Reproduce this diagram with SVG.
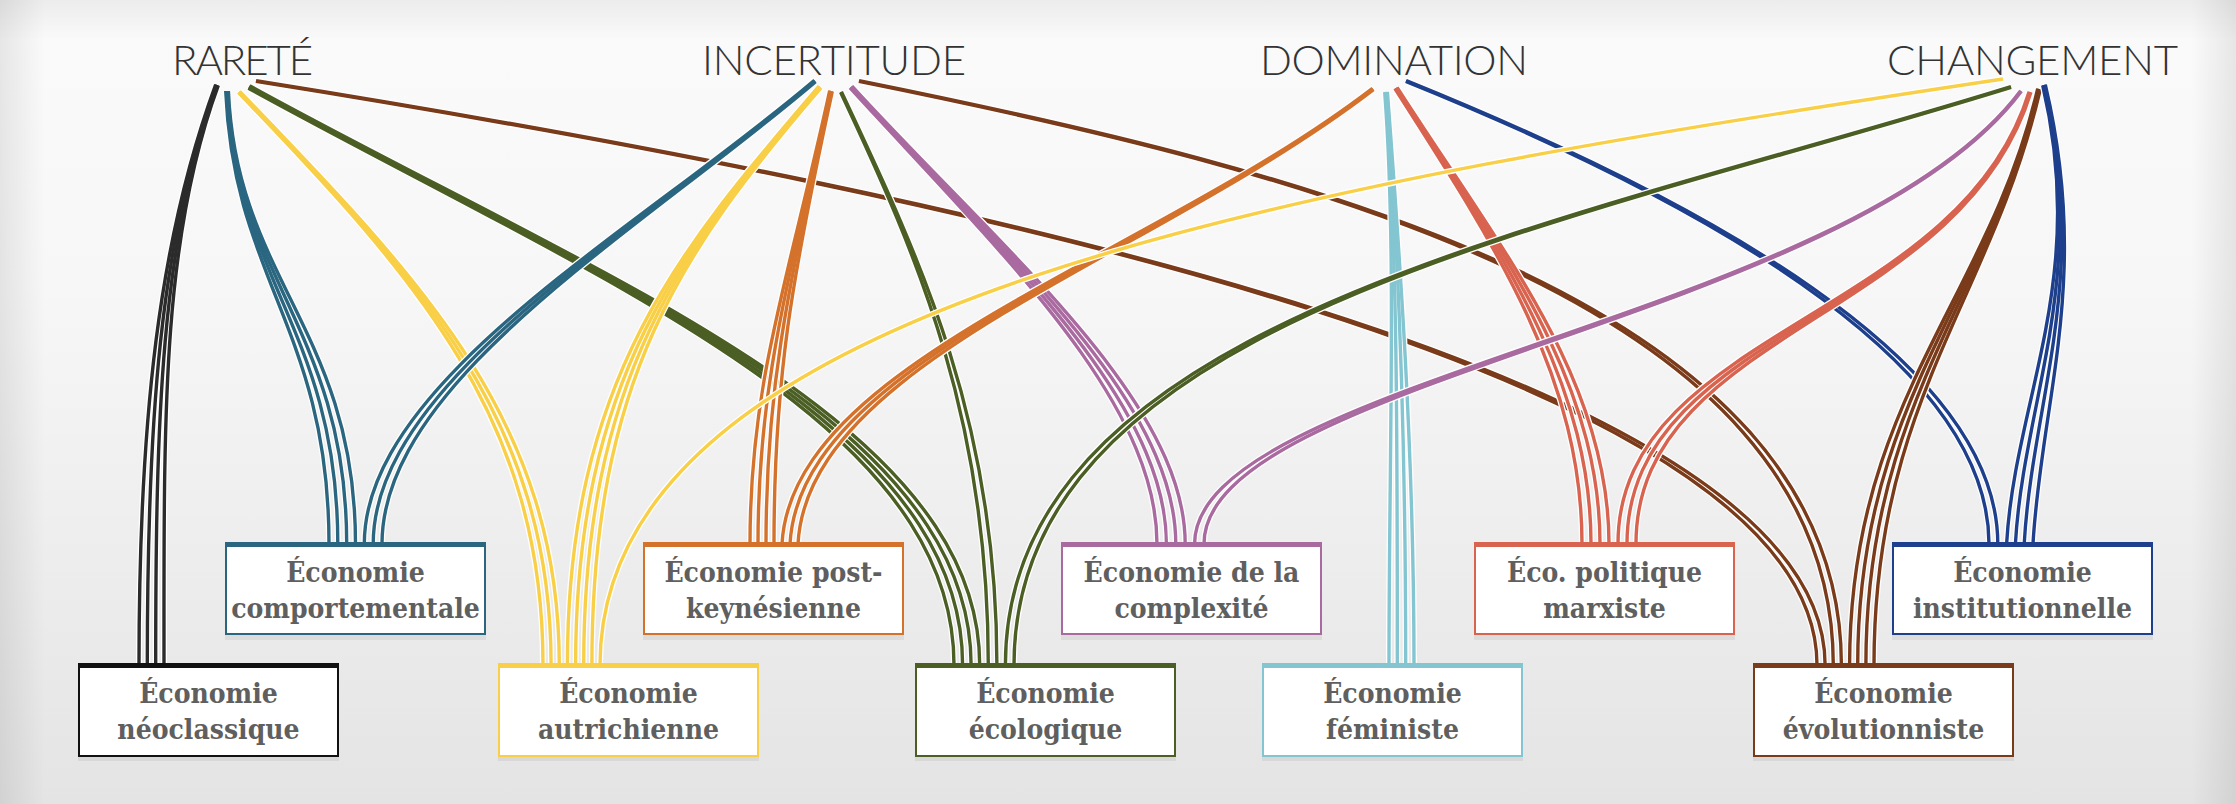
<svg xmlns="http://www.w3.org/2000/svg" width="2236" height="804" viewBox="0 0 2236 804">
<style>
.lbl{font-family:Lato,"Open Sans","Liberation Sans",sans-serif;font-weight:300;font-size:42px;fill:#333;text-anchor:middle}
.bt{font-family:"DejaVu Serif","Liberation Serif",serif;font-weight:bold;font-size:28px;font-stretch:condensed;fill:#5f5f5f;text-anchor:middle}
.bx{fill:#fff;stroke-width:2}
.sh{fill:#000;opacity:.06}
.case{stroke:#fff;stroke-width:6}
.col{stroke-width:3.4}
</style>
<defs>
<linearGradient id="bg" x1="0" y1="0" x2="0" y2="1">
<stop offset="0" stop-color="#ececec"/><stop offset=".05" stop-color="#fafafa"/><stop offset=".35" stop-color="#f7f7f7"/><stop offset="1" stop-color="#e4e4e4"/>
</linearGradient>
<linearGradient id="vg" x1="0" y1="0" x2="1" y2="0">
<stop offset="0" stop-color="#000" stop-opacity=".08"/><stop offset=".02" stop-color="#000" stop-opacity="0"/><stop offset=".98" stop-color="#000" stop-opacity="0"/><stop offset="1" stop-color="#000" stop-opacity=".08"/>
</linearGradient>
<g id="b1" fill="none">
<path d="M215.7,84.5C158.7,239.5 139,420 139,665"/><path d="M216.6,84.8C159.6,239.8 147.3,420 147.3,665"/><path d="M217.4,85.2C160.4,240.2 155.7,420 155.7,665"/><path d="M218.3,85.5C161.3,240.5 164,420 164,665"/></g>
<g id="b2" fill="none">
<path d="M225.7,91C233.7,280 329,330 329,544"/><path d="M226.6,91C234.6,280 337.8,330 337.8,544"/><path d="M227.5,91C235.5,280 346.7,330 346.7,544"/><path d="M228.4,91C236.4,280 355.5,330 355.5,544"/></g>
<g id="b3" fill="none">
<path d="M238.4,92.6C419.4,280.6 543,420 543,665"/><path d="M239,92C420,280 551.1,420 551.1,665"/><path d="M239.7,91.4C420.7,279.4 559.3,420 559.3,665"/></g>
<g id="b4" fill="none">
<path d="M248.4,88.2C599.4,281.2 954,420 954,665"/><path d="M248.8,87.4C599.8,280.4 962.6,420 962.6,665"/><path d="M249.2,86.6C600.2,279.6 971.1,420 971.1,665"/><path d="M249.7,85.8C600.7,278.8 979.7,420 979.7,665"/></g>
<g id="b5" fill="none">
<path d="M255.9,81.4C999.9,200.4 1817,380 1817,665"/><path d="M256.1,80.6C1000.1,199.6 1825.1,380 1825.1,665"/></g>
<g id="b6" fill="none">
<path d="M814.4,80.3C639.4,229.3 364.3,380 364.3,544"/><path d="M815,81C640,230 373.2,380 373.2,544"/><path d="M815.6,81.7C640.6,230.7 382,380 382,544"/></g>
<g id="b7" fill="none">
<path d="M819,86.1C679,249.1 567.4,380 567.4,665"/><path d="M819.7,86.7C679.7,249.7 575.6,380 575.6,665"/><path d="M820.3,87.3C680.3,250.3 583.7,380 583.7,665"/><path d="M821,87.9C681,250.9 591.9,380 591.9,665"/></g>
<g id="b8" fill="none">
<path d="M829.7,90.7C788.7,279.7 750,380 750,544"/><path d="M830.6,90.9C789.6,279.9 758,380 758,544"/><path d="M831.4,91.1C790.4,280.1 766,380 766,544"/><path d="M832.3,91.3C791.3,280.3 774,380 774,544"/></g>
<g id="b9" fill="none">
<path d="M840.6,92.2C919.6,260.2 988.3,420 988.3,665"/><path d="M841.4,91.8C920.4,259.8 996.9,420 996.9,665"/></g>
<g id="b10" fill="none">
<path d="M850,87.9C999,250.9 1157,400 1157,544"/><path d="M850.7,87.3C999.7,250.3 1166.4,400 1166.4,544"/><path d="M851.3,86.7C1000.3,249.7 1175.8,400 1175.8,544"/><path d="M852,86.1C1001,249.1 1185.2,400 1185.2,544"/></g>
<g id="b11" fill="none">
<path d="M858.9,81.4C1299.9,170.4 1833.3,300 1833.3,665"/><path d="M859.1,80.6C1300.1,169.6 1841.4,300 1841.4,665"/></g>
<g id="b12" fill="none">
<path d="M1372.5,88.3C1149.5,259.3 792,360 782,544"/><path d="M1373,89C1150,260 800,360 790,544"/><path d="M1373.5,89.7C1150.5,260.7 808,360 798,544"/></g>
<g id="b13" fill="none">
<path d="M1384.7,92C1396.7,250 1389,450 1389,665"/><path d="M1385.6,92C1397.6,250 1397.3,450 1397.3,665"/><path d="M1386.5,92C1398.5,250 1405.7,450 1405.7,665"/><path d="M1387.4,92C1399.4,250 1414,450 1414,665"/></g>
<g id="b14" fill="none">
<path d="M1394.9,88.7C1498.9,250.7 1582,380 1582,544"/><path d="M1395.6,88.2C1499.6,250.2 1591,380 1591,544"/><path d="M1396.4,87.8C1500.4,249.8 1600,380 1600,544"/><path d="M1397.1,87.3C1501.1,249.3 1609,380 1609,544"/></g>
<g id="b15" fill="none">
<path d="M1405.8,81.4C1699.8,200.4 1989,360 1989,544"/><path d="M1406.2,80.6C1700.2,199.6 1997.8,360 1997.8,544"/></g>
<g id="b16" fill="none">
<path d="M2003,79C1300,185 600,300 600,665"/></g>
<g id="b17" fill="none">
<path d="M2010.9,86.6C1549.9,229.6 1005.4,320 1005.4,665"/><path d="M2011.1,87.4C1550.1,230.4 1014,320 1014,665"/></g>
<g id="b18" fill="none">
<path d="M2020.6,90.7C1849.6,319.7 1194.6,380 1194.6,544"/><path d="M2021.4,91.3C1850.4,320.3 1204,380 1204,544"/></g>
<g id="b19" fill="none">
<path d="M2029.1,91.7C1959.1,319.7 1618,330 1618,544"/><path d="M2030,92C1960,320 1627,330 1627,544"/><path d="M2030.9,92.3C1960.9,320.3 1636,330 1636,544"/></g>
<g id="b20" fill="none">
<path d="M2037.7,88.7C1988.7,299.7 1849.6,400 1849.6,665"/><path d="M2038.6,88.9C1989.6,299.9 1857.7,400 1857.7,665"/><path d="M2039.4,89.1C1990.4,300.1 1865.9,400 1865.9,665"/><path d="M2040.3,89.3C1991.3,300.3 1874,400 1874,665"/></g>
<g id="b21" fill="none">
<path d="M2042.7,85.3C2088.7,280.3 2014.6,400 2006.6,544"/><path d="M2043.6,85.1C2089.6,280.1 2023.4,400 2015.4,544"/><path d="M2044.4,84.9C2090.4,279.9 2032.2,400 2024.2,544"/><path d="M2045.3,84.7C2091.3,279.7 2041,400 2033,544"/></g>
</defs>
<rect width="2236" height="804" fill="url(#bg)"/>
<rect width="2236" height="804" fill="url(#vg)"/>

<g id="labels">
<text id="rarete" class="lbl" x="242.5" y="75" textLength="141" lengthAdjust="spacing">RARETÉ</text>
<text id="incertitude" class="lbl" x="834" y="75" textLength="264" lengthAdjust="spacing">INCERTITUDE</text>
<text id="domination" class="lbl" x="1394" y="75" textLength="268" lengthAdjust="spacing">DOMINATION</text>
<text id="changement" class="lbl" x="2032.5" y="75" textLength="291" lengthAdjust="spacing">CHANGEMENT</text>
</g>

<g id="connectors">
<use href="#b1" class="case"/><use href="#b1" class="col" stroke="#2b2b2b"/>
<use href="#b2" class="case"/><use href="#b2" class="col" stroke="#2a6680"/>
<use href="#b3" class="case"/><use href="#b3" class="col" stroke="#f8cf46"/>
<use href="#b4" class="case"/><use href="#b4" class="col" stroke="#4b5e24"/>
<use href="#b5" class="case"/><use href="#b5" class="col" stroke="#7a3b1a"/>
<use href="#b6" class="case"/><use href="#b6" class="col" stroke="#2a6680"/>
<use href="#b7" class="case"/><use href="#b7" class="col" stroke="#f8cf46"/>
<use href="#b8" class="case"/><use href="#b8" class="col" stroke="#d4722c"/>
<use href="#b9" class="case"/><use href="#b9" class="col" stroke="#4b5e24"/>
<use href="#b10" class="case"/><use href="#b10" class="col" stroke="#a96aa0"/>
<use href="#b11" class="case"/><use href="#b11" class="col" stroke="#7a3b1a"/>
<use href="#b12" class="case"/><use href="#b12" class="col" stroke="#d4722c"/>
<use href="#b13" class="case"/><use href="#b13" class="col" stroke="#83c5d1"/>
<use href="#b14" class="case"/><use href="#b14" class="col" stroke="#d8634f"/>
<use href="#b15" class="case"/><use href="#b15" class="col" stroke="#1d3f8c"/>
<use href="#b16" class="case"/><use href="#b16" class="col" stroke="#f8cf46"/>
<use href="#b17" class="case"/><use href="#b17" class="col" stroke="#4b5e24"/>
<use href="#b18" class="case"/><use href="#b18" class="col" stroke="#a96aa0"/>
<use href="#b19" class="case"/><use href="#b19" class="col" stroke="#d8634f"/>
<use href="#b20" class="case"/><use href="#b20" class="col" stroke="#7a3b1a"/>
<use href="#b21" class="case"/><use href="#b21" class="col" stroke="#1d3f8c"/>
</g>

<g id="n-comportementale">
<rect class="sh" x="225" y="546" width="261" height="94"/>
<rect class="bx" x="226" y="543" width="259" height="91" stroke="#2a6680"/>
<rect x="225" y="542" width="261" height="5" fill="#2a6680"/>
<text class="bt" x="355.5" y="582">Économie</text><text class="bt" x="355.5" y="618">comportementale</text>
</g>
<g id="n-postkeynesienne">
<rect class="sh" x="643" y="546" width="261" height="94"/>
<rect class="bx" x="644" y="543" width="259" height="91" stroke="#d4722c"/>
<rect x="643" y="542" width="261" height="5" fill="#d4722c"/>
<text class="bt" x="773.5" y="582">Économie post-</text><text class="bt" x="773.5" y="618">keynésienne</text>
</g>
<g id="n-complexite">
<rect class="sh" x="1061" y="546" width="261" height="94"/>
<rect class="bx" x="1062" y="543" width="259" height="91" stroke="#a96aa0"/>
<rect x="1061" y="542" width="261" height="5" fill="#a96aa0"/>
<text class="bt" x="1191.5" y="582">Économie de la</text><text class="bt" x="1191.5" y="618">complexité</text>
</g>
<g id="n-marxiste">
<rect class="sh" x="1474" y="546" width="261" height="94"/>
<rect class="bx" x="1475" y="543" width="259" height="91" stroke="#d8634f"/>
<rect x="1474" y="542" width="261" height="5" fill="#d8634f"/>
<text class="bt" x="1604.5" y="582">Éco. politique</text><text class="bt" x="1604.5" y="618">marxiste</text>
</g>
<g id="n-institutionnelle">
<rect class="sh" x="1892" y="546" width="261" height="94"/>
<rect class="bx" x="1893" y="543" width="259" height="91" stroke="#1d3f8c"/>
<rect x="1892" y="542" width="261" height="5" fill="#1d3f8c"/>
<text class="bt" x="2022.5" y="582">Économie</text><text class="bt" x="2022.5" y="618">institutionnelle</text>
</g>
<g id="n-neoclassique">
<rect class="sh" x="78" y="667" width="261" height="94"/>
<rect class="bx" x="79" y="664" width="259" height="92" stroke="#111"/>
<rect x="78" y="663" width="261" height="5" fill="#111"/>
<text class="bt" x="208.5" y="703">Économie</text><text class="bt" x="208.5" y="739">néoclassique</text>
</g>
<g id="n-autrichienne">
<rect class="sh" x="498" y="667" width="261" height="94"/>
<rect class="bx" x="499" y="664" width="259" height="92" stroke="#f8cf46"/>
<rect x="498" y="663" width="261" height="5" fill="#f8cf46"/>
<text class="bt" x="628.5" y="703">Économie</text><text class="bt" x="628.5" y="739">autrichienne</text>
</g>
<g id="n-ecologique">
<rect class="sh" x="915" y="667" width="261" height="94"/>
<rect class="bx" x="916" y="664" width="259" height="92" stroke="#4b5e24"/>
<rect x="915" y="663" width="261" height="5" fill="#4b5e24"/>
<text class="bt" x="1045.5" y="703">Économie</text><text class="bt" x="1045.5" y="739">écologique</text>
</g>
<g id="n-feministe">
<rect class="sh" x="1262" y="667" width="261" height="94"/>
<rect class="bx" x="1263" y="664" width="259" height="92" stroke="#83c5d1"/>
<rect x="1262" y="663" width="261" height="5" fill="#83c5d1"/>
<text class="bt" x="1392.5" y="703">Économie</text><text class="bt" x="1392.5" y="739">féministe</text>
</g>
<g id="n-evolutionniste">
<rect class="sh" x="1753" y="667" width="261" height="94"/>
<rect class="bx" x="1754" y="664" width="259" height="92" stroke="#7a3b1a"/>
<rect x="1753" y="663" width="261" height="5" fill="#7a3b1a"/>
<text class="bt" x="1883.5" y="703">Économie</text><text class="bt" x="1883.5" y="739">évolutionniste</text>
</g>
</svg>
